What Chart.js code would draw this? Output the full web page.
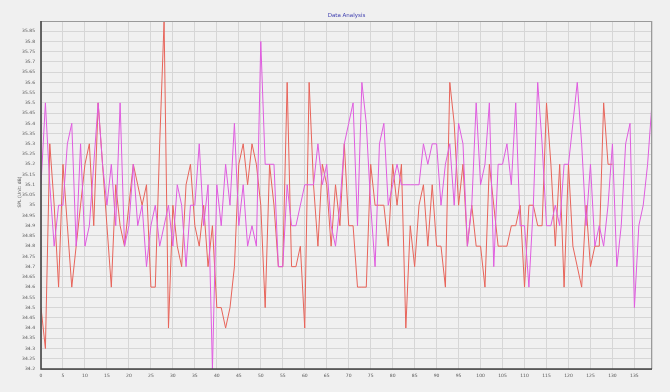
<!DOCTYPE html>
<html>
<head>
<meta charset="utf-8">
<script src="https://cdn.jsdelivr.net/npm/chart.js@4.4.1/dist/chart.umd.min.js"></script>
<style>
  html, body { margin: 0; padding: 0; background: #f0f0f0; }
  #wrap { width: 670px; height: 392px; }
</style>
</head>
<body>
<div id="wrap"><canvas id="chart" width="670" height="392"></canvas></div>
<script>
// Valores (SPL em dB)
const serieVioleta = [
  35.1, 35.5, 35.1, 34.8, 35.0, 35.0, 35.3, 35.4, 34.8, 35.3,
  34.8, 34.9, 35.2, 35.5, 35.2, 35.0, 35.2, 34.9, 35.5, 34.8,
  34.9, 35.2, 34.9, 35.0, 34.7, 34.9, 35.0, 34.8, 34.9, 35.0,
  34.8, 35.1, 35.0, 34.7, 35.0, 35.0, 35.3, 34.9, 35.1, 34.2,
  35.1, 34.9, 35.2, 35.0, 35.4, 34.9, 35.1, 34.8, 34.9, 34.8,
  35.8, 35.2, 35.2, 35.2, 34.7, 34.7, 35.1, 34.9, 34.9, 35.0,
  35.1, 35.1, 35.1, 35.3, 35.1, 35.2, 34.9, 34.8, 35.0, 35.3,
  35.4, 35.5, 34.9, 35.6, 35.4, 35.0, 34.7, 35.3, 35.4, 35.0,
  35.1, 35.2, 35.1, 35.1, 35.1, 35.1, 35.1, 35.3, 35.2, 35.3,
  35.3, 35.0, 35.2, 35.3, 35.0, 35.4, 35.3, 34.8, 35.0, 35.5,
  35.1, 35.2, 35.5, 34.7, 35.2, 35.2, 35.3, 35.1, 35.5, 34.9,
  34.9, 34.6, 35.0, 35.6, 35.3, 34.9, 34.9, 35.0, 34.9, 35.2,
  35.2, 35.4, 35.6, 35.3, 34.9, 35.2, 34.8, 34.9, 34.8, 35.0,
  35.3, 34.7, 34.9, 35.3, 35.4, 34.5, 34.9, 35.0, 35.2, 35.5
];

const serieVermelha = [
  34.5, 34.3, 35.3, 35.0, 34.6, 35.2, 34.9, 34.6, 34.8, 35.0,
  35.2, 35.3, 34.9, 35.5, 35.2, 34.9, 34.6, 35.1, 34.9, 34.8,
  35.0, 35.2, 35.1, 35.0, 35.1, 34.6, 34.6, 35.3, 35.9, 34.4,
  35.0, 34.8, 34.7, 35.1, 35.2, 34.9, 34.8, 35.0, 34.7, 34.9,
  34.5, 34.5, 34.4, 34.5, 34.7, 35.2, 35.3, 35.1, 35.3, 35.2,
  35.0, 34.5, 35.2, 35.0, 34.7, 34.7, 35.6, 34.7, 34.7, 34.8,
  34.4, 35.6, 35.1, 34.8, 35.2, 35.1, 34.8, 35.1, 34.9, 35.3,
  34.9, 34.9, 34.6, 34.6, 34.6, 35.2, 35.0, 35.0, 35.0, 34.8,
  35.2, 35.0, 35.2, 34.4, 34.9, 34.7, 35.0, 35.1, 34.8, 35.1,
  34.8, 34.8, 34.6, 35.6, 35.4, 35.0, 35.2, 34.8, 35.0, 34.8,
  34.8, 34.6, 35.2, 35.0, 34.8, 34.8, 34.8, 34.9, 34.9, 35.0,
  34.6, 35.0, 35.0, 34.9, 34.9, 35.5, 35.2, 34.8, 35.2, 34.6,
  35.2, 34.8, 34.7, 34.6, 35.0, 34.7, 34.8, 34.8, 35.5, 35.2,
  35.2
];

const eixoY = { min: 34.2, max: 35.9, passo: 0.05 };
const eixoX = { min: 0, max: 139, passo: 5 };
const titulo = 'Data Analysis';
const rotuloY = 'SPL (Unit: dB)';

const paraPontos = (serie) => serie.map((v, i) => ({ x: i, y: v }));

// Título, rótulo do eixo Y e moldura da área do gráfico
const molduraPlugin = {
    id: 'moldura',
    beforeDraw(chart) {
        const ctx = chart.ctx;
        ctx.save();
        ctx.fillStyle = '#f0f0f0';
        ctx.fillRect(0, 0, chart.width, chart.height);
        ctx.restore();
    },
    afterDraw(chart) {
        const { ctx, chartArea } = chart;
        ctx.save();
        ctx.strokeStyle = '#9a9a9a';
        ctx.lineWidth = 1;
        ctx.strokeRect(chartArea.left, chartArea.top + 0.5, chartArea.right - chartArea.left - 0.5, chartArea.bottom - chartArea.top);
        ctx.strokeStyle = '#444';
        ctx.lineWidth = 1.5;
        ctx.beginPath();
        ctx.moveTo(chartArea.left, chartArea.top);
        ctx.lineTo(chartArea.left, chartArea.bottom);
        ctx.lineTo(chartArea.right, chartArea.bottom);
        ctx.stroke();

        ctx.fillStyle = '#4040b0';
        ctx.font = '5.5px "DejaVu Sans"';
        ctx.textAlign = 'center';
        ctx.textBaseline = 'alphabetic';
        ctx.fillText(titulo, (chartArea.left + chartArea.right) / 2, 17);

        ctx.fillStyle = '#555';
        ctx.font = '4.5px "DejaVu Sans"';
        ctx.translate(20, 192);
        ctx.rotate(-Math.PI / 2);
        ctx.textBaseline = 'middle';
        ctx.fillText(rotuloY, 0, 0);
        ctx.restore();
    }
};

new Chart(document.getElementById('chart').getContext('2d'), {
    type: 'line',
    data: {
        datasets: [
            {
                label: 'A',
                data: paraPontos(serieVioleta),
                borderColor: '#e05ce0',
                borderWidth: 1,
                pointRadius: 0,
                tension: 0,
                fill: false
            },
            {
                label: 'B',
                data: paraPontos(serieVermelha),
                borderColor: '#e8645a',
                borderWidth: 1,
                pointRadius: 0,
                tension: 0,
                fill: false
            }
        ]
    },
    options: {
        responsive: false,
        animation: false,
        layout: { padding: { top: 21, right: 18, left: 0, bottom: 0 } },
        plugins: {
            legend: { display: false },
            tooltip: { enabled: false }
        },
        scales: {
            x: {
                type: 'linear',
                min: eixoX.min,
                max: eixoX.max,
                border: { display: false },
                grid: { color: '#d6d6d6', drawTicks: false },
                ticks: {
                    stepSize: eixoX.passo,
                    padding: 4,
                    color: '#555',
                    font: { size: 4.5, family: 'DejaVu Sans' },
                    maxRotation: 0,
                    autoSkip: false,
                    callback: (v) => (v % eixoX.passo === 0 ? String(v) : '')
                },
                afterFit(scale) { scale.height = 23; }
            },
            y: {
                min: eixoY.min,
                max: eixoY.max,
                border: { display: false },
                grid: { color: '#d6d6d6', drawTicks: false },
                ticks: {
                    stepSize: eixoY.passo,
                    padding: 6,
                    color: '#555',
                    font: { size: 4.5, family: 'DejaVu Sans' },
                    autoSkip: false,
                    callback: (v) => {
                        if (Math.abs(v - eixoY.max) < 1e-6) return '';
                        return String(Math.round(v * 100) / 100);
                    }
                },
                afterFit(scale) { scale.width = 41; }
            }
        }
    },
    plugins: [molduraPlugin]
});
</script>
</body>
</html>
